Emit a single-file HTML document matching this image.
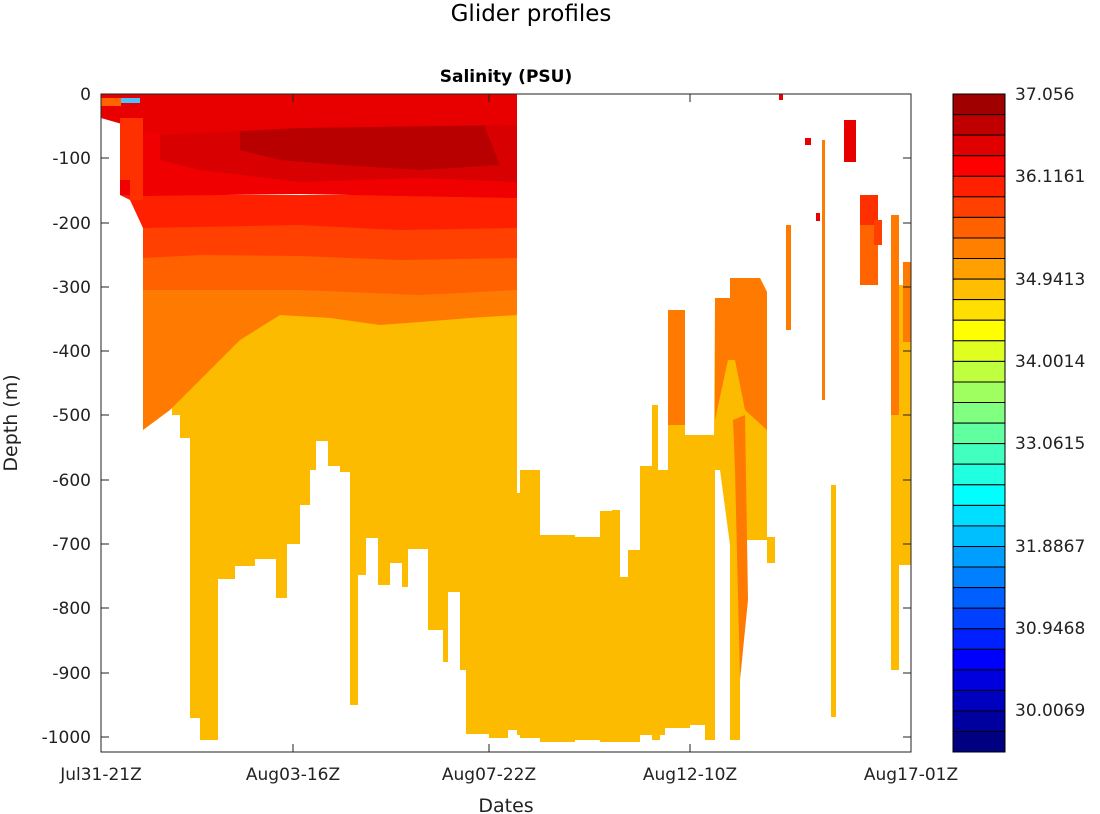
<!DOCTYPE html>
<html><head><style>
body{margin:0;background:#fff;}
svg{display:block;font-family:"DejaVu Sans","Liberation Sans",sans-serif;}
</style></head><body>
<svg width="1100" height="814" viewBox="0 0 1100 814">
<rect width="1100" height="814" fill="#fff"/>
<text x="531" y="21" font-size="23" text-anchor="middle" fill="#000">Glider profiles</text>
<text x="506" y="82" font-size="17" font-weight="bold" text-anchor="middle" fill="#000">Salinity  (PSU)</text>
<defs><clipPath id="c"><rect x="101" y="94" width="810" height="658"/></clipPath></defs>
<g clip-path="url(#c)">
<polygon fill="#fdbb00" points="143,330 143,340 148,340 148,352 158,352 158,385 172,385 172,415 180,415 180,438 190,438 190,718 200,718 200,740 218,740 218,579 235,579 235,566 255,566 255,559 276,559 276,598 287,598 287,544 300,544 300,505 310,505 310,470 316,470 316,441 328,441 328,466 340,466 340,472 350,472 350,705 358,705 358,575 366,575 366,538 378,538 378,585 390,585 390,563 402,563 402,587 408,587 408,549 428,549 428,630 443,630 443,662 448,662 448,592 460,592 460,670 466,670 466,734 489,734 489,738 508,738 508,730 517,730 517,300 143,300"/>
<polygon fill="#fdbb00" points="517,493 520,493 520,470 540,470 540,535 575,535 575,537 600,537 600,511 612,511 612,510 620,510 620,577 628,577 628,550 640,550 640,466 652,466 652,405 658,405 658,470 668,470 668,310 685,310 685,435 714,435 715,298 730,298 730,278 760,278 767,292 767,537 775,537 775,563 767,563 767,540 740,540 740,740 730,740 730,545 720,470 715,470 715,740 705,740 705,725 690,725 690,728 665,728 665,735 660,735 660,740 652,740 652,735 640,735 640,742 600,742 600,740 575,740 575,742 540,742 540,738 520,738 520,735 517,735"/>
<polygon fill="#ff7a00" points="668,310 685,310 685,425 668,425"/>
<polygon fill="#ff7a00" points="715,298 730,298 730,278 760,278 767,292 767,430 745,410 735,360 728,360 715,420"/>
<polygon fill="#ff7a00" points="733,420 745,415 748,600 740,680 735,470"/>
<rect x="786" y="225" width="5" height="105" fill="#ff7a00"/>
<rect x="822" y="140" width="3" height="260" fill="#ff7a00"/>
<rect x="831" y="485" width="5" height="232" fill="#fdbb00"/>
<rect x="844" y="120" width="12" height="42" fill="#e80000"/>
<rect x="860" y="195" width="18" height="90" fill="#ff6400"/>
<rect x="860" y="195" width="18" height="30" fill="#ff3000"/>
<rect x="874" y="220" width="8" height="25" fill="#ff4000"/>
<rect x="891" y="215" width="8" height="455" fill="#fdbb00"/>
<rect x="891" y="215" width="8" height="200" fill="#ff7a00"/>
<rect x="899" y="285" width="12" height="280" fill="#fdbb00"/>
<rect x="903" y="262" width="8" height="80" fill="#ff7a00"/>
<rect x="805" y="138" width="6" height="7" fill="#e80000"/>
<rect x="816" y="213" width="4" height="8" fill="#e80000"/>
<rect x="779" y="94" width="4" height="6" fill="#e80000"/>
<polygon fill="#ff7a00" points="143,285 517,285 517,315 470,318 420,322 380,325 330,318 280,315 240,340 200,380 170,410 143,430"/>
<polygon fill="#ff6000" points="143,255 517,255 517,290 420,295 300,290 200,290 143,290"/>
<polygon fill="#ff4000" points="143,225 517,225 517,258 400,260 300,256 200,255 143,258"/>
<polygon fill="#ff2000" points="120,195 517,195 517,228 400,230 300,225 143,228 130,200"/>
<polygon fill="#f00000" points="120,120 517,120 517,198 400,196 300,194 143,196 120,195"/>
<polygon fill="#d80000" points="160,125 517,120 517,182 420,178 300,182 200,170 160,160"/>
<polygon fill="#b80000" points="240,125 480,115 500,165 420,170 340,165 280,160 240,150"/>
<polygon fill="#e80000" points="101,94 517,94 517,125 300,128 160,135 101,118"/>
<polygon fill="#ff3000" points="120,118 143,118 143,200 130,200 130,180 120,180"/>
<rect x="120" y="98" width="20" height="5" fill="#4fc0ff"/>
<rect x="101" y="98" width="20" height="8" fill="#ff6400"/>
</g>
<rect x="101" y="94" width="810" height="658" fill="none" stroke="#222" stroke-width="1"/>
<g stroke="#222" stroke-width="1">
<line x1="101" y1="94" x2="109" y2="94"/><line x1="903" y1="94" x2="911" y2="94"/>
<line x1="101" y1="158" x2="109" y2="158"/><line x1="903" y1="158" x2="911" y2="158"/>
<line x1="101" y1="223" x2="109" y2="223"/><line x1="903" y1="223" x2="911" y2="223"/>
<line x1="101" y1="287" x2="109" y2="287"/><line x1="903" y1="287" x2="911" y2="287"/>
<line x1="101" y1="351" x2="109" y2="351"/><line x1="903" y1="351" x2="911" y2="351"/>
<line x1="101" y1="415" x2="109" y2="415"/><line x1="903" y1="415" x2="911" y2="415"/>
<line x1="101" y1="480" x2="109" y2="480"/><line x1="903" y1="480" x2="911" y2="480"/>
<line x1="101" y1="544" x2="109" y2="544"/><line x1="903" y1="544" x2="911" y2="544"/>
<line x1="101" y1="608" x2="109" y2="608"/><line x1="903" y1="608" x2="911" y2="608"/>
<line x1="101" y1="673" x2="109" y2="673"/><line x1="903" y1="673" x2="911" y2="673"/>
<line x1="101" y1="737" x2="109" y2="737"/><line x1="903" y1="737" x2="911" y2="737"/>
<line x1="293" y1="752" x2="293" y2="744"/><line x1="489" y1="752" x2="489" y2="744"/><line x1="690" y1="752" x2="690" y2="744"/>
<line x1="293" y1="94" x2="293" y2="102"/><line x1="489" y1="94" x2="489" y2="102"/><line x1="690" y1="94" x2="690" y2="102"/>
</g>
<g font-size="17" fill="#222" text-anchor="end">
<text x="91" y="100">0</text><text x="91" y="164">-100</text><text x="91" y="229">-200</text>
<text x="91" y="293">-300</text><text x="91" y="357">-400</text><text x="91" y="421">-500</text>
<text x="91" y="486">-600</text><text x="91" y="550">-700</text><text x="91" y="614">-800</text>
<text x="91" y="679">-900</text><text x="91" y="743">-1000</text>
</g>
<g font-size="17" fill="#222" text-anchor="middle">
<text x="101" y="780">Jul31-21Z</text><text x="293" y="780">Aug03-16Z</text><text x="489" y="780">Aug07-22Z</text>
<text x="690" y="780">Aug12-10Z</text><text x="911" y="780">Aug17-01Z</text>
<text x="506" y="812" font-size="19">Dates</text>
</g>
<text transform="translate(17,423) rotate(-90)" font-size="19" fill="#222" text-anchor="middle">Depth  (m)</text>
<g stroke="#000" stroke-width="1">
<rect x="953" y="94" width="52" height="20.6" fill="#a00000"/>
<rect x="953" y="114.6" width="52" height="20.6" fill="#c00000"/>
<rect x="953" y="135.1" width="52" height="20.6" fill="#e00000"/>
<rect x="953" y="155.7" width="52" height="20.6" fill="#ff0000"/>
<rect x="953" y="176.3" width="52" height="20.6" fill="#ff2000"/>
<rect x="953" y="196.8" width="52" height="20.6" fill="#ff4000"/>
<rect x="953" y="217.4" width="52" height="20.6" fill="#ff6000"/>
<rect x="953" y="238" width="52" height="20.6" fill="#ff8000"/>
<rect x="953" y="258.5" width="52" height="20.6" fill="#ffa000"/>
<rect x="953" y="279.1" width="52" height="20.6" fill="#ffbf00"/>
<rect x="953" y="299.6" width="52" height="20.6" fill="#ffdf00"/>
<rect x="953" y="320.2" width="52" height="20.6" fill="#ffff00"/>
<rect x="953" y="340.8" width="52" height="20.6" fill="#dfff20"/>
<rect x="953" y="361.4" width="52" height="20.6" fill="#bfff40"/>
<rect x="953" y="382" width="52" height="20.6" fill="#9fff60"/>
<rect x="953" y="402.5" width="52" height="20.6" fill="#80ff80"/>
<rect x="953" y="423.1" width="52" height="20.6" fill="#60ff9f"/>
<rect x="953" y="443.6" width="52" height="20.6" fill="#40ffbf"/>
<rect x="953" y="464.2" width="52" height="20.6" fill="#20ffdf"/>
<rect x="953" y="484.8" width="52" height="20.6" fill="#00ffff"/>
<rect x="953" y="505.4" width="52" height="20.6" fill="#00dfff"/>
<rect x="953" y="525.9" width="52" height="20.6" fill="#00bfff"/>
<rect x="953" y="546.5" width="52" height="20.6" fill="#009fff"/>
<rect x="953" y="567" width="52" height="20.6" fill="#0080ff"/>
<rect x="953" y="587.6" width="52" height="20.6" fill="#0060ff"/>
<rect x="953" y="608.2" width="52" height="20.6" fill="#0040ff"/>
<rect x="953" y="628.8" width="52" height="20.6" fill="#0020ff"/>
<rect x="953" y="649.3" width="52" height="20.6" fill="#0000ff"/>
<rect x="953" y="669.9" width="52" height="20.6" fill="#0000df"/>
<rect x="953" y="690.4" width="52" height="20.6" fill="#0000bf"/>
<rect x="953" y="711" width="52" height="20.6" fill="#00009f"/>
<rect x="953" y="731.5" width="52" height="20.5" fill="#000080"/>
</g>
<g font-size="17" fill="#222">
<text x="1015" y="100">37.056</text><text x="1015" y="182">36.1161</text><text x="1015" y="285">34.9413</text>
<text x="1015" y="367">34.0014</text><text x="1015" y="449">33.0615</text><text x="1015" y="552">31.8867</text>
<text x="1015" y="634">30.9468</text><text x="1015" y="716">30.0069</text>
</g>
</svg>
</body></html>
